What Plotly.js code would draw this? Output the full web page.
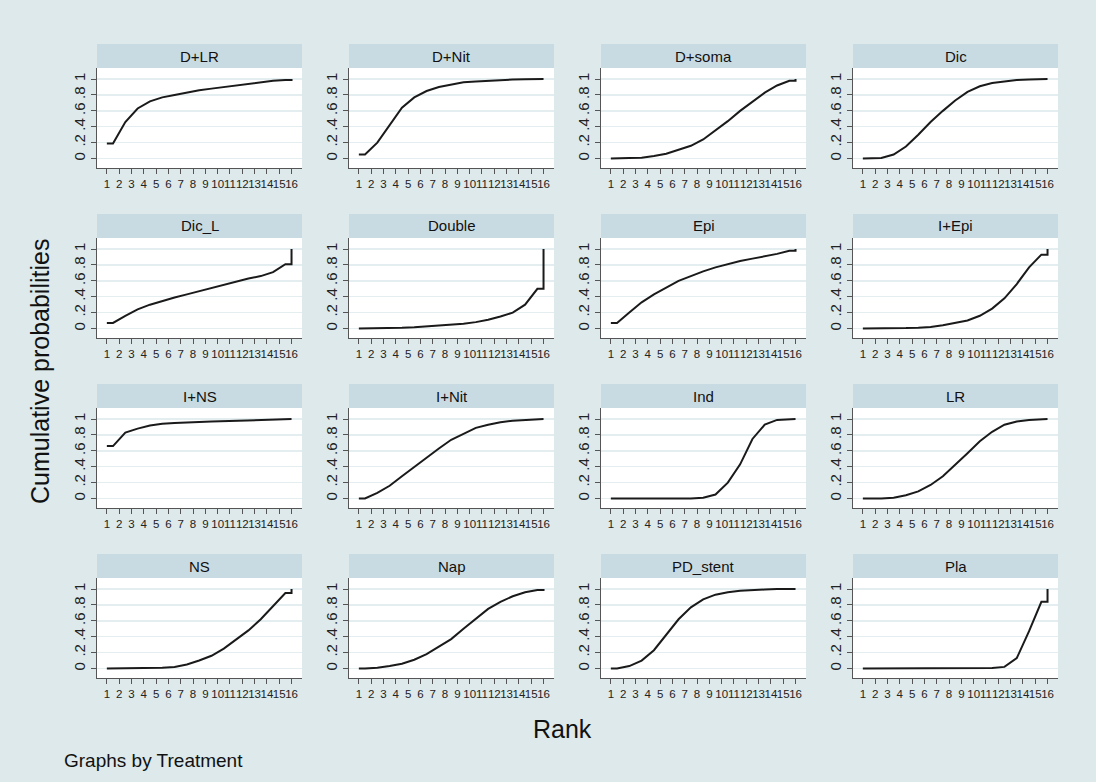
<!DOCTYPE html>
<html>
<head>
<meta charset="utf-8">
<script src="https://cdn.plot.ly/plotly-3.0.1.min.js"></script>
<style>html,body{margin:0;padding:0;background:#fff;}#chart{width:1096px;height:782px;}</style>
</head>
<body>
<div id="chart"></div>
<script>
// Ranks and tick labels
const ranks = [1,2,3,4,5,6,7,8,9,10,11,12,13,14,15,16];
const rankLabels = ['1','2','3','4','5','6','7','8','9','10','11','12','13','14','15','16'];
const yTickVals = [0, 0.2, 0.4, 0.6, 0.8, 1];
const yTickText = ['0', '.2', '.4', '.6', '.8', '1'];

// Treatments (panel order)
const treatments = ['D+LR','D+Nit','D+soma','Dic','Dic_L','Double','Epi','I+Epi',
                    'I+NS','I+Nit','Ind','LR','NS','Nap','PD_stent','Pla'];

// Cumulative probabilities by rank (1..16)
const cumDLR    = [0.19,0.46,0.63,0.72,0.77,0.80,0.83,0.86,0.88,0.90,0.92,0.94,0.96,0.98,0.99,1.00];
const cumDNit   = [0.05,0.20,0.42,0.64,0.77,0.85,0.90,0.93,0.96,0.97,0.98,0.99,0.995,0.998,1.00,1.00];
const cumDsoma  = [0.00,0.005,0.01,0.03,0.06,0.11,0.16,0.24,0.35,0.47,0.60,0.72,0.83,0.92,0.98,1.00];
const cumDic    = [0.00,0.005,0.05,0.15,0.30,0.46,0.60,0.73,0.84,0.91,0.95,0.97,0.99,0.995,1.00,1.00];
const cumDicL   = [0.07,0.16,0.24,0.30,0.35,0.39,0.43,0.47,0.51,0.55,0.59,0.63,0.66,0.71,0.81,1.00];
const cumDouble = [0.00,0.00,0.003,0.008,0.015,0.025,0.035,0.045,0.06,0.08,0.11,0.15,0.20,0.30,0.50,1.00];
const cumEpi    = [0.07,0.20,0.33,0.43,0.52,0.60,0.66,0.72,0.77,0.81,0.85,0.88,0.91,0.94,0.98,1.00];
const cumIEpi   = [0.00,0.00,0.00,0.005,0.01,0.02,0.04,0.07,0.10,0.16,0.25,0.38,0.56,0.77,0.93,1.00];
const cumINS    = [0.66,0.83,0.88,0.92,0.94,0.95,0.96,0.965,0.97,0.975,0.98,0.985,0.99,0.995,0.998,1.00];
const cumINit   = [0.00,0.07,0.16,0.28,0.40,0.52,0.63,0.74,0.82,0.89,0.93,0.96,0.98,0.99,1.00,1.00];
const cumInd    = [0.00,0.00,0.00,0.00,0.00,0.00,0.00,0.01,0.05,0.20,0.43,0.75,0.93,0.99,1.00,1.00];
const cumLR     = [0.00,0.00,0.01,0.04,0.09,0.17,0.28,0.42,0.57,0.72,0.84,0.93,0.97,0.99,1.00,1.00];
const cumNS     = [0.00,0.00,0.00,0.003,0.008,0.02,0.05,0.10,0.16,0.25,0.36,0.48,0.62,0.78,0.95,1.00];
const cumNap    = [0.00,0.01,0.03,0.06,0.11,0.18,0.27,0.37,0.50,0.63,0.75,0.84,0.91,0.96,0.99,1.00];
const cumPD     = [0.00,0.03,0.10,0.23,0.42,0.62,0.77,0.87,0.93,0.96,0.98,0.99,0.995,1.00,1.00,1.00];
const cumPla    = [0.00,0.00,0.00,0.00,0.00,0.00,0.00,0.00,0.00,0.00,0.005,0.02,0.13,0.47,0.84,1.00];

const series = [cumDLR,cumDNit,cumDsoma,cumDic,cumDicL,cumDouble,cumEpi,cumIEpi,
                cumINS,cumINit,cumInd,cumLR,cumNS,cumNap,cumPD,cumPla];

// Layout geometry (pixels)
const W = 1096, H = 782;
const colLeft = [97, 349, 601, 853];
const panelW = 205;
const rowTop = [68, 238, 408, 578];
const panelH = 100;
const stripH = 24;

const bg = '#dde9eb';
const stripColor = '#c9dbe2';
const gridColor = '#e4edef';
const axisColor = '#555555';
const fontFam = 'Liberation Sans, Arial, sans-serif';

function pathFor(vals) {
  const xs = [ranks[0]], ys = [vals[0]];
  for (let k = 0; k < ranks.length - 1; k++) { xs.push(ranks[k] + 0.5); ys.push(vals[k]); }
  const n = ranks.length - 1;
  xs.push(ranks[n]); ys.push(vals[n - 1]);
  xs.push(ranks[n]); ys.push(vals[n]);
  return {xs, ys};
}

const data = [];
const layout = {
  width: W, height: H,
  margin: {l: 0, r: 0, t: 0, b: 0},
  paper_bgcolor: bg,
  plot_bgcolor: '#ffffff',
  showlegend: false,
  font: {family: fontFam, color: '#222'},
  shapes: [], annotations: []
};

treatments.forEach((name, i) => {
  const r = Math.floor(i / 4), c = i % 4;
  const sfx = i === 0 ? '' : String(i + 1);
  const p = pathFor(series[i]);
  data.push({
    type: 'scatter', mode: 'lines', x: p.xs, y: p.ys,
    xaxis: 'x' + sfx, yaxis: 'y' + sfx,
    line: {color: '#1a1a1a', width: 2}, hoverinfo: 'skip'
  });
  const x0 = colLeft[c] / W, x1 = (colLeft[c] + panelW) / W;
  const yTop = 1 - rowTop[r] / H, yBot = 1 - (rowTop[r] + panelH) / H;
  layout['xaxis' + sfx] = {
    domain: [x0, x1], anchor: 'y' + sfx, range: [0.2, 16.85],
    tickmode: 'array', tickvals: ranks, ticktext: rankLabels, tickangle: 0,
    ticks: 'outside', ticklen: 5, tickwidth: 1, tickcolor: axisColor,
    showline: true, linecolor: axisColor, linewidth: 1,
    showgrid: false, zeroline: false,
    tickfont: {size: 11.5, color: '#222', family: fontFam}
  };
  layout['yaxis' + sfx] = {
    domain: [yBot, yTop], anchor: 'x' + sfx, range: [-0.12, 1.14],
    tickmode: 'array', tickvals: yTickVals, ticktext: yTickText, tickangle: -90,
    ticks: 'outside', ticklen: 5, tickwidth: 1, tickcolor: axisColor,
    showline: true, linecolor: axisColor, linewidth: 1,
    showgrid: true, gridcolor: gridColor, gridwidth: 1.5, zeroline: false,
    tickfont: {size: 15, color: '#222', family: fontFam}
  };
  layout.shapes.push({
    type: 'rect', xref: 'paper', yref: 'paper', layer: 'below',
    x0: x0, x1: x1, y0: yTop, y1: 1 - (rowTop[r] - stripH) / H,
    fillcolor: stripColor, line: {width: 0}
  });
  layout.annotations.push({
    xref: 'paper', yref: 'paper', x: (x0 + x1) / 2, y: 1 - (rowTop[r] - stripH / 2) / H,
    text: name, showarrow: false, xanchor: 'center', yanchor: 'middle',
    font: {size: 15, color: '#111', family: fontFam}
  });
});

layout.annotations.push({
  xref: 'paper', yref: 'paper', x: 40 / W, y: 1 - 372 / H,
  text: 'Cumulative probabilities', textangle: -90, showarrow: false,
  xanchor: 'center', yanchor: 'middle',
  font: {size: 25, color: '#111', family: fontFam}
});
layout.annotations.push({
  xref: 'paper', yref: 'paper', x: 562 / W, y: 1 - 729 / H,
  text: 'Rank', showarrow: false, xanchor: 'center', yanchor: 'middle',
  font: {size: 25, color: '#111', family: fontFam}
});
layout.annotations.push({
  xref: 'paper', yref: 'paper', x: 62 / W, y: 1 - 760 / H,
  text: 'Graphs by Treatment', showarrow: false, xanchor: 'left', yanchor: 'middle',
  font: {size: 19, color: '#111', family: fontFam}
});

Plotly.newPlot('chart', data, layout, {staticPlot: true});
</script>
</body>
</html>
